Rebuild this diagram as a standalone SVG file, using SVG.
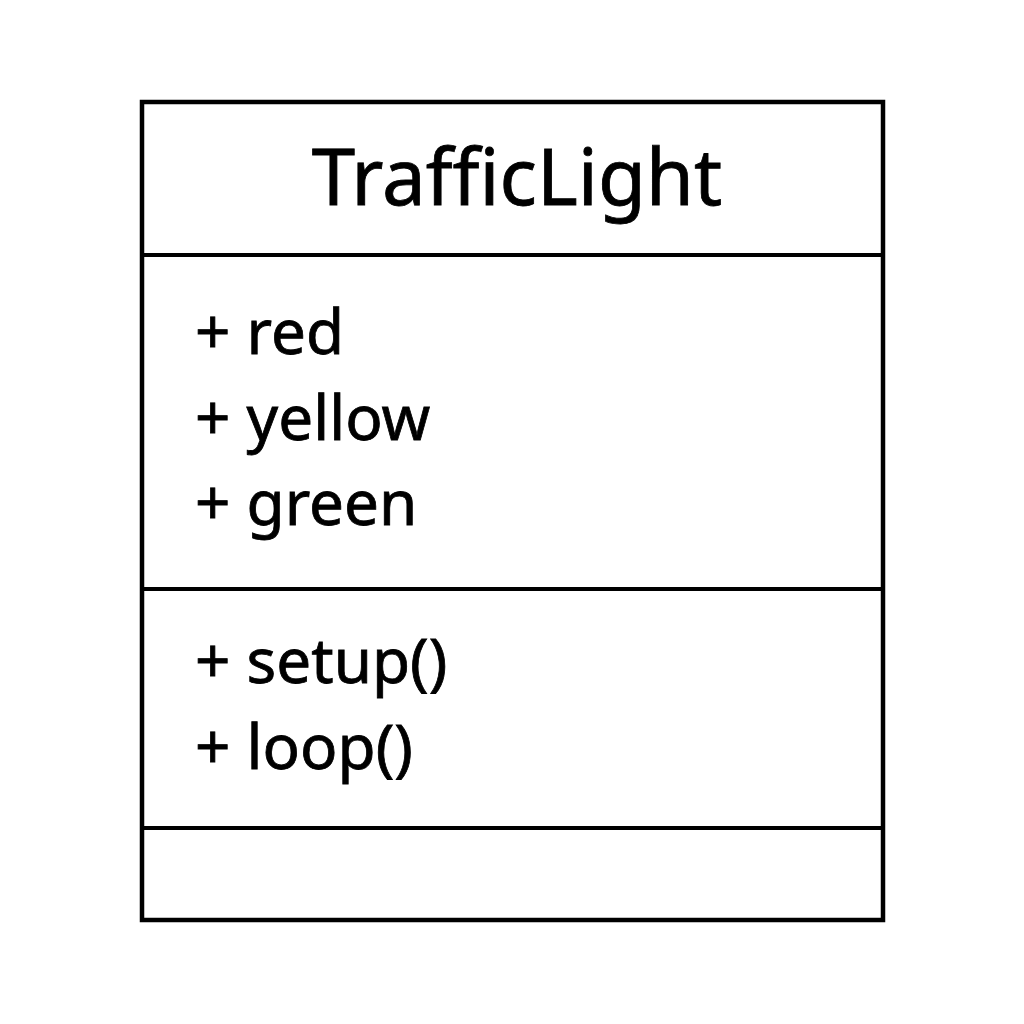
<svg xmlns="http://www.w3.org/2000/svg" width="1024" height="1024" viewBox="0 0 1024 1024">
<style>
.box{fill:#fff;stroke:#000;stroke-width:4.5}
.div{stroke:#000;stroke-width:4}
text{font-family:"Noto Sans","Open Sans","DejaVu Sans",sans-serif;fill:#000;stroke:#000;stroke-width:0.8}
.title{font-size:78px;text-anchor:middle}
.item{font-size:62px}
</style>
<rect width="1024" height="1024" fill="#fff"/>
<g id="TrafficLight">
<rect class="box" x="142" y="102" width="741" height="818"/>
<line class="div" x1="142" y1="255" x2="883" y2="255"/>
<line class="div" x1="142" y1="589" x2="883" y2="589"/>
<line class="div" x1="142" y1="828" x2="883" y2="828"/>
<text class="title" x="517" y="205">TrafficLight</text>
<text class="item" x="195" y="354">+ red</text>
<text class="item" x="195" y="440">+ yellow</text>
<text class="item" x="195" y="525">+ green</text>
<text class="item" x="195" y="683">+ setup()</text>
<text class="item" x="195" y="769">+ loop()</text>
</g>
<g id="connectors"/>
</svg>
